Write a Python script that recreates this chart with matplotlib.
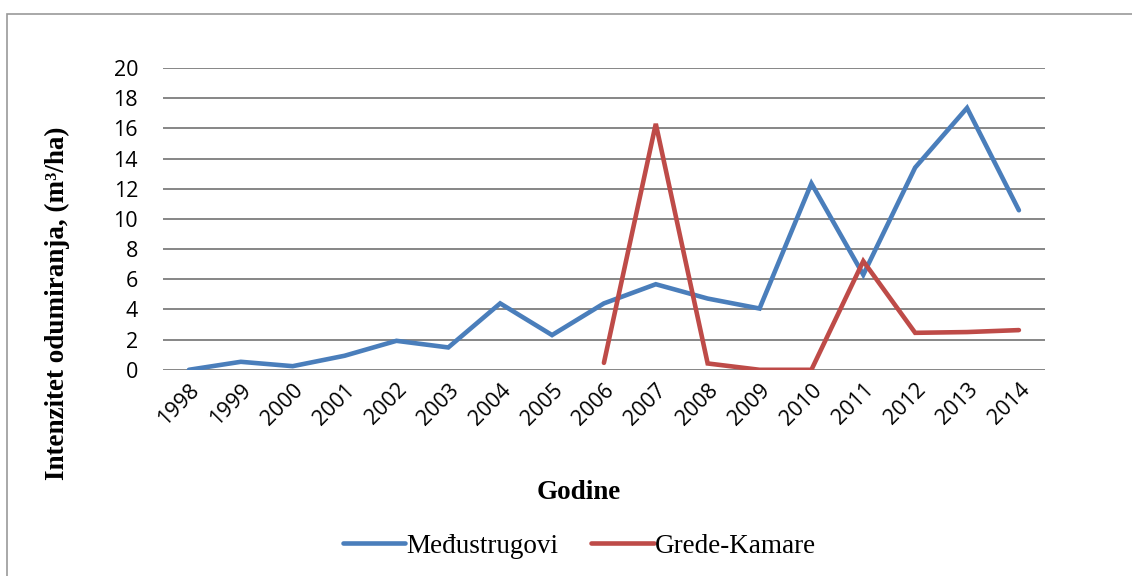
import matplotlib

matplotlib.use("Agg")
import matplotlib.pyplot as plt
import numpy as np
from matplotlib.patches import Rectangle

YEARS = list(range(1998, 2015))
MEDUSTRUGOVI = [0.0, 0.53, 0.24, 0.93, 1.92, 1.48, 4.4, 2.3, 4.4, 5.67, 4.72,
                4.06, 12.35, 6.3, 13.4, 17.35, 10.57]
GREDE_YEARS = list(range(2006, 2015))
GREDE_KAMARE = [0.46, 16.3, 0.42, 0.0, 0.0, 7.2, 2.45, 2.5, 2.63]

BLUE = "#4A7EBB"
RED = "#BE4B48"
GRID = "#868686"
SERIF = "Liberation Serif"

fig = plt.figure(figsize=(11.32, 5.76), dpi=100)
ax = fig.add_axes([0.144, 0.358, 0.779, 0.524])

x = np.arange(len(YEARS))
xg = np.array([YEARS.index(y) for y in GREDE_YEARS])
ax.plot(x, MEDUSTRUGOVI, color=BLUE, lw=3.3, solid_joinstyle="miter",
        solid_capstyle="round", label="Međustrugovi", zorder=3)
ax.plot(xg, GREDE_KAMARE, color=RED, lw=3.3, solid_joinstyle="miter",
        solid_capstyle="round", label="Grede-Kamare", zorder=3)

ax.set_xlim(-0.5, len(YEARS) - 0.5)
ax.set_ylim(0, 20)
ax.set_yticks(range(0, 21, 2))
ax.set_yticklabels([str(v) for v in range(0, 21, 2)], fontsize=15.5,
                   family="Open Sans")
ax.set_xticks(x)
ax.set_xticklabels([str(y) for y in YEARS], rotation=45, ha="right",
                   rotation_mode="anchor", fontsize=15.5, family="Open Sans")
ax.tick_params(length=0)
ax.tick_params(axis="y", pad=18)
ax.tick_params(axis="x", pad=7)
ax.grid(axis="y", color=GRID, lw=1.4)
ax.set_axisbelow(True)
for s in ax.spines.values():
    s.set_visible(False)

ax.set_ylabel("Intenzitet odumiranja, (m³/ha)", family=SERIF,
              fontweight="bold", fontsize=19.5)
ax.yaxis.set_label_coords(-0.105, 0.22)
fig.text(0.511, 0.145, "Godine", family=SERIF, fontweight="bold",
         fontsize=19.5, ha="center", va="center")

fig.legend(loc="center", bbox_to_anchor=(0.512, 0.052), ncol=2, frameon=False,
           prop={"family": SERIF, "size": 19.5}, handlelength=2.3,
           handletextpad=0.05, columnspacing=1.2)

fig.patches.append(Rectangle((0.006, -0.01), 1.0, 0.986,
                             transform=fig.transFigure, fill=False,
                             edgecolor="#999999", lw=1.2))

fig.savefig("out.png", dpi=100)
